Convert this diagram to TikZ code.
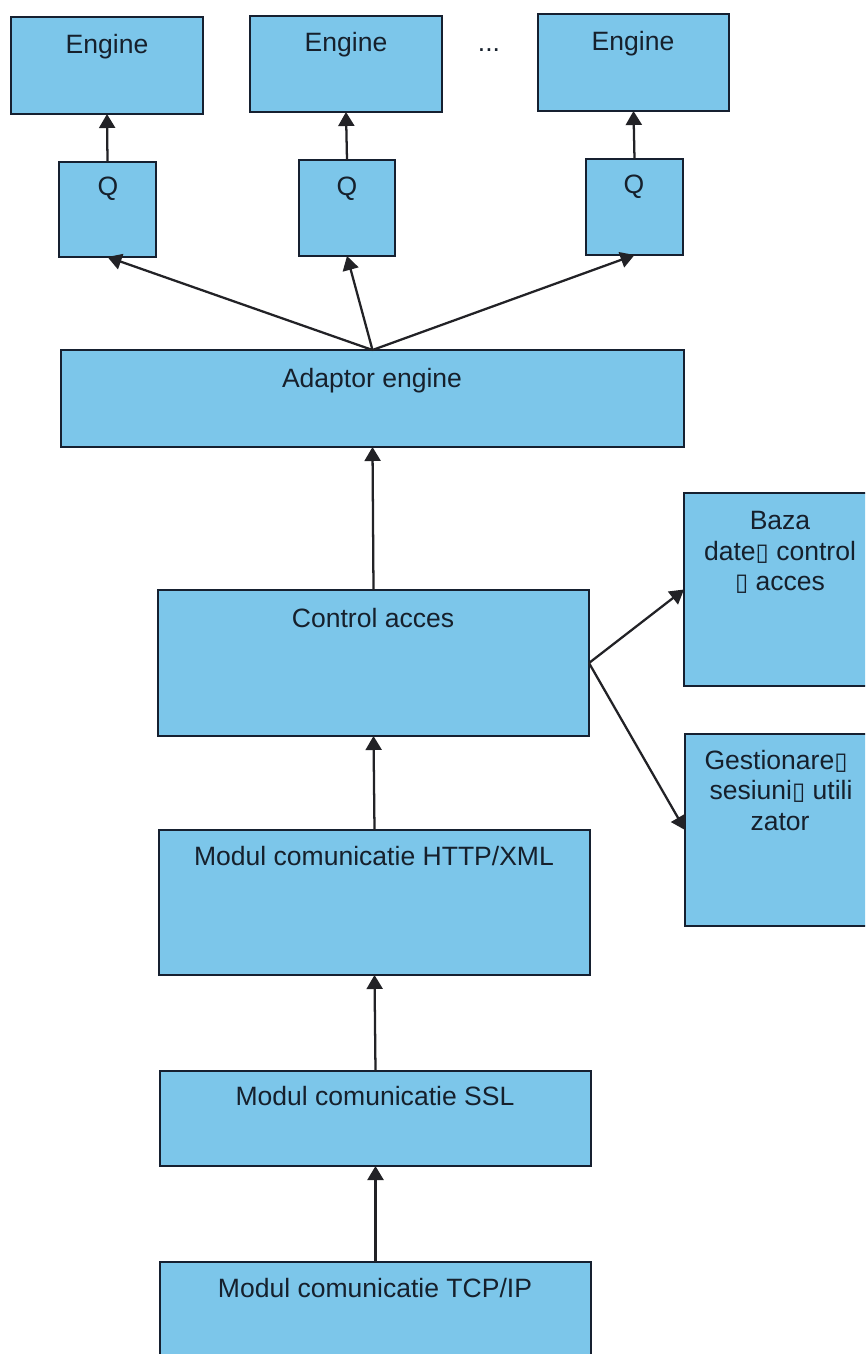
\documentclass[tikz,border=0pt]{standalone}
\usepackage{fontspec}
\setmainfont{Liberation Sans}
\newfontfamily\boxglyph{DejaVu Sans}
\newcommand{\missingglyph}{{\boxglyph\fontsize{18pt}{18pt}\selectfont ▯}}
\definecolor{boxfill}{RGB}{124,198,234}
\definecolor{boxline}{RGB}{22,32,48}
\definecolor{inktext}{RGB}{22,32,44}
\definecolor{arrowink}{RGB}{34,34,38}
\usetikzlibrary{arrows.meta}
\tikzset{
  blk/.style n args={4}{draw=boxline,fill=boxfill,line width=1.6pt,inner sep=0pt,outer sep=0pt,
    minimum width=(#3-#1)*0.75pt,minimum height=(#4-#2)*0.75pt,anchor=center,
    at={({(#1+#3)/2},{(#2+#4)/2})}},
  lbl/.style={text=inktext,inner sep=0pt,anchor=base,font=\fontsize{19.9pt}{23pt}\selectfont,align=center},
  conn/.style={draw=arrowink,line width=1.7pt,-{Triangle[length=10.5pt,width=12pt]},shorten >=0pt}
}
\begin{document}
\begin{tikzpicture}[x=0.75pt,y=-0.75pt]
\useasboundingbox (0,0) rectangle (865,1354);
\clip (0,0) rectangle (865,1354);
\fill[white] (0,0) rectangle (865,1354);
\node[blk={11}{17}{203}{114}] (e1) {};
\node[blk={250}{16}{442}{112}] (e2) {};
\node[blk={538}{14}{729}{111}] (e3) {};
\node[blk={59}{162}{156}{257}] (q1) {};
\node[blk={299}{160}{395}{256}] (q2) {};
\node[blk={586}{159}{683}{255}] (q3) {};
\node[blk={61}{350}{684}{447}] (ad) {};
\node[blk={158}{590}{589}{736}] (ca) {};
\node[blk={159}{830}{590}{975}] (http) {};
\node[blk={160}{1071}{591}{1166}] (ssl) {};
\node[blk={160}{1262}{591}{1400}] (tcp) {};
\node[blk={684}{493}{900}{686}] (baza) {};
\node[blk={685}{734}{900}{926}] (gest) {};

\node[lbl] (te1) at (107,53) {Engine};
\node[lbl] (te2) at (346,51) {Engine};
\node[lbl] (te3) at (633,50) {Engine};
\node[lbl] (dots) at (489,51) {...};
\node[lbl] (tq1) at (108,195) {Q};
\node[lbl] (tq2) at (347,195) {Q};
\node[lbl] (tq3) at (634,193) {Q};
\node[lbl] (tad) at (372,387) {Adaptor engine};
\node[lbl] (tca) at (373,627) {Control acces};
\node[lbl] (thttp) at (374,865) {Modul comunicatie HTTP/XML};
\node[lbl] (tssl) at (375,1105) {Modul comunicatie SSL};
\node[lbl] (ttcp) at (375,1297) {Modul comunicatie TCP/IP};
\node[lbl] (tb1) at (780,529) {Baza};
\node[lbl] (tb2) at (780,560) {date\missingglyph{} control};
\node[lbl] (tb3) at (780,590) {\missingglyph{} acces};
\node[lbl] (tg1) at (776,769) {Gestionare\missingglyph};
\node[lbl] (tg2) at (781,799) {sesiuni\missingglyph{} utili};
\node[lbl] (tg3) at (780,830) {zator};

\draw[conn] (q1.north) -- (e1.south);
\draw[conn] (q2.north) -- (e2.south);
\draw[conn] (q3.north) -- (e3.south);
\draw[conn] (ad.north) -- (q1.south);
\draw[conn] (ad.north) -- (q2.south);
\draw[conn] (ad.north) -- (q3.south);
\draw[conn] (ca.north) -- (ad.south);
\draw[conn] (http.north) -- (ca.south);
\draw[conn] (ssl.north) -- (http.south);
\draw[conn] (tcp.north) -- (ssl.south);
\draw[conn] (ca.east) -- (baza.west);
\draw[conn] (ca.east) -- (gest.west);
\end{tikzpicture}
\end{document}
